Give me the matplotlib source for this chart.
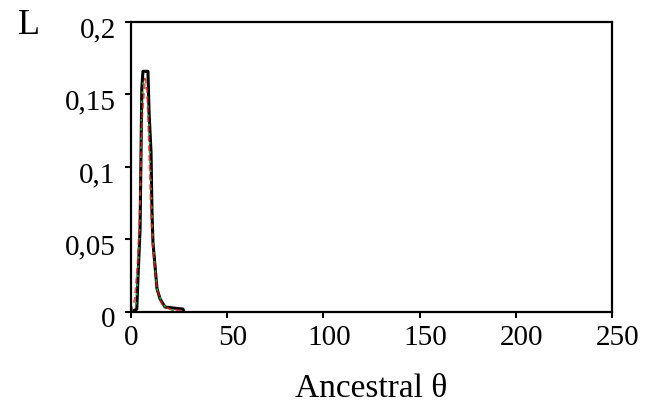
import matplotlib.pyplot as plt
import matplotlib.transforms as mtransforms
from matplotlib.ticker import FuncFormatter

# Likelihood curves for ancestral theta
theta_black = [0, 3.0, 3.6, 4.7, 5.6, 6.2, 8.8, 9.4, 10.4, 10.9, 11.4, 13.5, 15.1, 17.7, 27, 27.5]
L_black = [0, 0.002, 0.023, 0.057, 0.154, 0.166, 0.166, 0.137, 0.110, 0.069, 0.048, 0.016,
           0.009, 0.0034, 0.002, 0]

theta_green = [0, 2.5, 3.5, 4.6, 5.5, 6.5, 7.5, 8.5, 9.5, 10.5, 11.4, 13.5, 15.5, 18, 22, 27]
L_green = [0, 0.004, 0.025, 0.06, 0.145, 0.162, 0.16, 0.148, 0.125, 0.085, 0.048, 0.016,
           0.008, 0.003, 0.001, 0]

theta_red = [0, 1, 2, 3.6, 4.7, 5.7, 7.3, 8.3, 8.8, 9.9, 10.4, 11.4, 13.5, 16, 20, 28]
L_red = [0, 0.0055, 0.009, 0.037, 0.078, 0.133, 0.161, 0.154, 0.137, 0.092, 0.068, 0.043,
         0.016, 0.0055, 0.002, 0.0007]

yticks = [0, 0.05, 0.1, 0.15, 0.2]
xticks = [0, 50, 100, 150, 200, 250]

plt.rcParams['font.family'] = ['Liberation Serif', 'DejaVu Serif']

fig = plt.figure(figsize=(6.48, 4.14), dpi=100)
ax = fig.add_axes([0.2022, 0.244, 0.7423, 0.7005])

ax.plot(theta_black, L_black, color='black', lw=2.2)
ax.plot(theta_green, L_green, color='#22aa22', lw=1.2, ls=(0, (1.5, 4)))
ax.plot(theta_red, L_red, color='#e02020', lw=1.4, ls=(0, (3, 2)), alpha=0.75)

ax.set_xlim(0, 250)
ax.set_ylim(0, 0.2)
ax.set_xticks(xticks)
ax.set_yticks(yticks)
ax.yaxis.set_major_formatter(FuncFormatter(lambda v, p: ('%g' % v).replace('.', ',')))
ax.tick_params(direction='out', length=4, width=1.5, labelsize=21)
ax.tick_params(axis='x', pad=5)
ax.tick_params(axis='y', pad=7)
for s in ax.spines.values():
    s.set_linewidth(1.6)

# labels in the original sit a little off their ticks
down = mtransforms.ScaledTranslation(0, -4 / 100, fig.dpi_scale_trans)
for lab in ax.get_yticklabels():
    lab.set_transform(lab.get_transform() + down)
right = mtransforms.ScaledTranslation(6 / 100, 0, fig.dpi_scale_trans)
for lab in ax.get_xticklabels()[1:]:
    lab.set_transform(lab.get_transform() + right)

ax.set_xlabel('Ancestral θ', fontsize=24, labelpad=16)
fig.text(29 / 648, 1 - 26 / 414, 'L', fontsize=26, ha='center', va='center')

fig.savefig('out.png', dpi=100)
